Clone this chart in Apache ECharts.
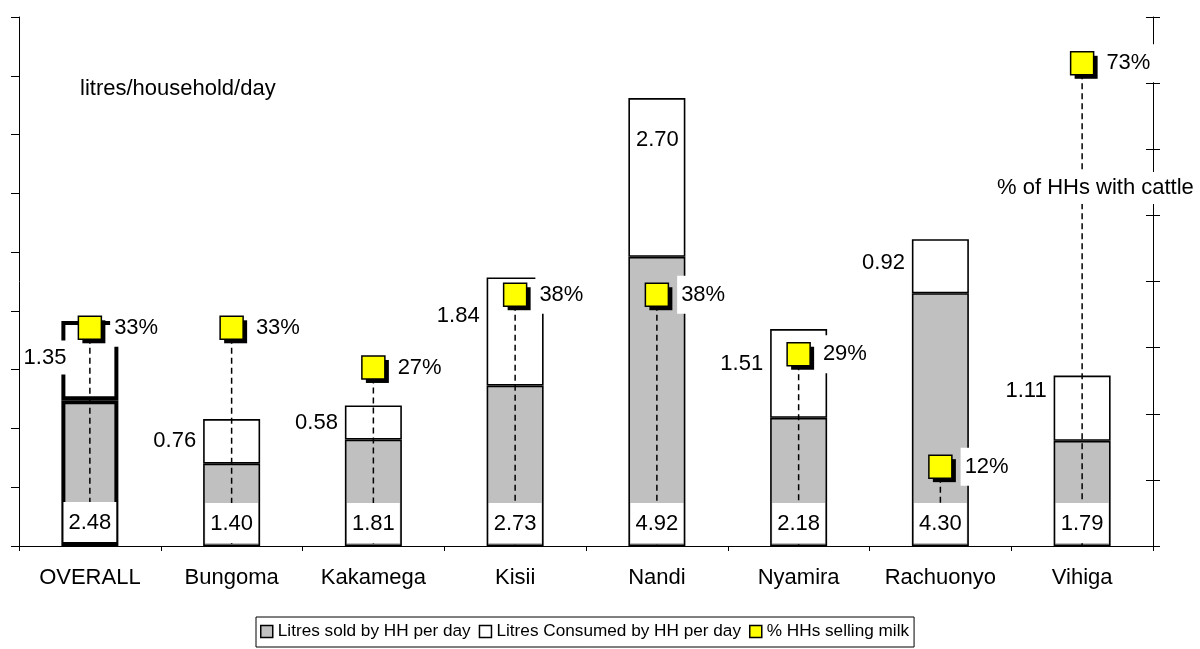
<!DOCTYPE html>
<html>
<head>
<meta charset="utf-8">
<style>
  html, body { margin: 0; padding: 0; background: #fff; }
  #chart { width: 1200px; height: 649px; }
</style>
<script src="https://cdn.jsdelivr.net/npm/echarts@6/dist/echarts.min.js"></script>
</head>
<body>
<div id="chart"></div>
<script>
// Milk sold and consumed per household per day, by district
const categories = ['OVERALL', 'Bungoma', 'Kakamega', 'Kisii', 'Nandi', 'Nyamira', 'Rachuonyo', 'Vihiga'];
const litresSold = [2.48, 1.40, 1.81, 2.73, 4.92, 2.18, 4.30, 1.79];
const litresConsumed = [1.35, 0.76, 0.58, 1.84, 2.70, 1.51, 0.92, 1.11];
const pctSellingMilk = [33, 33, 27, 38, 38, 29, 12, 73];

const SOLD = 'Litres sold by HH per day';
const CONSUMED = 'Litres Consumed by HH per day';
const SELLING = '% HHs selling milk';

// Label placement for the consumed-litres values
const consumedLabelPos = ['left', 'left', 'left', 'left', 'inside', 'left', 'left', 'left'];
const consumedLabelShift = [[12, -3], [0, 0], [0, 0], [0, -16], [0, -38], [0, -10], [0, -3], [0, -17]];

const FONT = "'Liberation Sans', Arial, sans-serif";
const FS = 22;
const thick = (i) => (i === 0 ? 4 : 1.6);

const chart = echarts.init(document.getElementById('chart'), null, { renderer: 'canvas' });

const barBase = {
  type: 'bar',
  barWidth: 57,
  barGap: '-100%',
  xAxisIndex: 0,
  yAxisIndex: 0
};

const markerSize = 23;

chart.setOption({
  animation: false,
  backgroundColor: '#fff',
  textStyle: { fontFamily: FONT, color: '#000' },
  grid: { left: 19, right: 47, top: 17, bottom: 103, containLabel: false },
  legend: {
    left: 256,
    top: 617,
    padding: [6, 5, 7, 4],
    itemGap: 8,
    itemWidth: 12,
    itemHeight: 12,
    borderColor: '#000',
    borderWidth: 1,
    textStyle: { fontFamily: FONT, fontSize: 17.2, color: '#000' },
    itemStyle: { borderColor: '#000', borderWidth: 1.5, shadowColor: 'transparent', shadowOffsetX: 0, shadowOffsetY: 0 },
    data: [
      { name: SOLD, icon: 'rect' },
      { name: CONSUMED, icon: 'rect' },
      { name: SELLING, icon: 'rect' }
    ]
  },
  xAxis: {
    type: 'category',
    data: categories,
    axisLine: { lineStyle: { color: '#000', width: 1 } },
    axisTick: { show: true, length: 5, lineStyle: { color: '#000' } },
    axisLabel: { interval: 0, fontFamily: FONT, fontSize: FS, color: '#000', margin: 21 }
  },
  yAxis: [
    {
      type: 'value', min: 0, max: 9, interval: 1, position: 'left',
      axisLine: { show: true, lineStyle: { color: '#000', width: 1 } },
      axisTick: { show: true, length: 8, lineStyle: { color: '#000' } },
      axisLabel: { show: false },
      splitLine: { show: false }
    },
    {
      type: 'value', min: 0, max: 80, interval: 10, position: 'right',
      axisLine: { show: true, lineStyle: { color: '#000', width: 1 } },
      axisTick: { show: true, length: 7, lineStyle: { color: '#000' } },
      axisLabel: { show: false },
      splitLine: { show: false }
    },
    {
      type: 'value', min: 0, max: 80, interval: 10, position: 'right',
      axisLine: { show: false },
      axisTick: { show: true, inside: true, length: 7, lineStyle: { color: '#000' } },
      axisLabel: { show: false },
      splitLine: { show: false }
    }
  ],
  graphic: [
    {
      type: 'text', left: 80, top: 78, z: 100,
      style: { text: 'litres/household/day', fontFamily: FONT, fontSize: FS, fill: '#000' }
    },
    {
      type: 'text', left: 994, top: 172, z: 100,
      style: {
        text: '% of HHs with cattle', fontFamily: FONT, fontSize: FS, fill: '#000',
        backgroundColor: '#fff', padding: [5, 3, 5, 3]
      }
    }
  ],
  series: [
    Object.assign({}, barBase, {
      name: SOLD,
      stack: 'litres',
      z: 2,
      itemStyle: { color: '#C0C0C0', borderColor: '#000', borderWidth: 1.6 },
      data: litresSold.map((v, i) => ({ value: v, itemStyle: { borderWidth: thick(i) } }))
    }),
    Object.assign({}, barBase, {
      name: CONSUMED,
      stack: 'litres',
      z: 2,
      itemStyle: { color: '#FFFFFF', borderColor: '#000', borderWidth: 1.6 },
      data: litresConsumed.map((v, i) => ({ value: v, itemStyle: { borderWidth: thick(i) } }))
    }),
    {
      // dashed drop lines from each % marker to the base line
      name: 'drop-lines',
      type: 'custom',
      xAxisIndex: 0,
      yAxisIndex: 1,
      z: 3,
      silent: true,
      encode: { x: 0, y: 1 },
      data: pctSellingMilk.map((v, i) => [i, v]),
      renderItem: (params, api) => {
        const top = api.coord([api.value(0), api.value(1)]);
        const bottom = api.coord([api.value(0), 0]);
        return {
          type: 'line',
          shape: { x1: top[0], y1: top[1], x2: bottom[0], y2: bottom[1] },
          style: { stroke: '#000', lineWidth: 1.5, lineDash: [6, 4] }
        };
      }
    },
    // value labels, drawn above the drop lines
    Object.assign({}, barBase, {
      name: 'sold-values',
      stack: 'values',
      z: 4,
      silent: true,
      itemStyle: { color: 'transparent', borderWidth: 0 },
      label: {
        show: true,
        position: 'insideBottom',
        distance: 3,
        fontFamily: FONT, fontSize: FS, color: '#000',
        backgroundColor: '#fff',
        lineHeight: 24,
        padding: [9, 5, 7, 5],
        formatter: (p) => p.value.toFixed(2)
      },
      data: litresSold.map((v, i) => ({ value: v, label: { distance: i === 0 ? 4 : 3 } }))
    }),
    Object.assign({}, barBase, {
      name: 'consumed-values',
      stack: 'values',
      z: 4,
      silent: true,
      itemStyle: { color: 'transparent', borderWidth: 0 },
      label: {
        show: true,
        distance: 5,
        fontFamily: FONT, fontSize: FS, color: '#000',
        backgroundColor: '#fff',
        lineHeight: 24,
        padding: [5, 2, 5, 3],
        formatter: (p) => p.value.toFixed(2)
      },
      data: litresConsumed.map((v, i) => ({
        value: v,
        label: { position: consumedLabelPos[i], offset: consumedLabelShift[i] }
      }))
    }),
    {
      // drop shadow behind each % marker
      name: 'marker-shadow',
      type: 'scatter',
      xAxisIndex: 0,
      yAxisIndex: 1,
      z: 5,
      silent: true,
      symbol: 'rect',
      symbolSize: markerSize,
      symbolOffset: [4, 4],
      itemStyle: { color: '#000', opacity: 1 },
      data: pctSellingMilk.map((v, i) => [i, v])
    },
    {
      name: SELLING,
      type: 'scatter',
      xAxisIndex: 0,
      yAxisIndex: 1,
      z: 6,
      symbol: 'rect',
      symbolSize: markerSize,
      itemStyle: { color: '#FFFF00', borderColor: '#000', borderWidth: 1.5, opacity: 1 },
      label: {
        show: true,
        position: 'right',
        distance: 8,
        fontFamily: FONT, fontSize: FS, color: '#000',
        backgroundColor: '#fff',
        lineHeight: 24,
        padding: [7, 12, 7, 4],
        formatter: (p) => p.value[1] + '%'
      },
      data: pctSellingMilk.map((v, i) => [i, v])
    }
  ]
});
</script>
</body>
</html>
